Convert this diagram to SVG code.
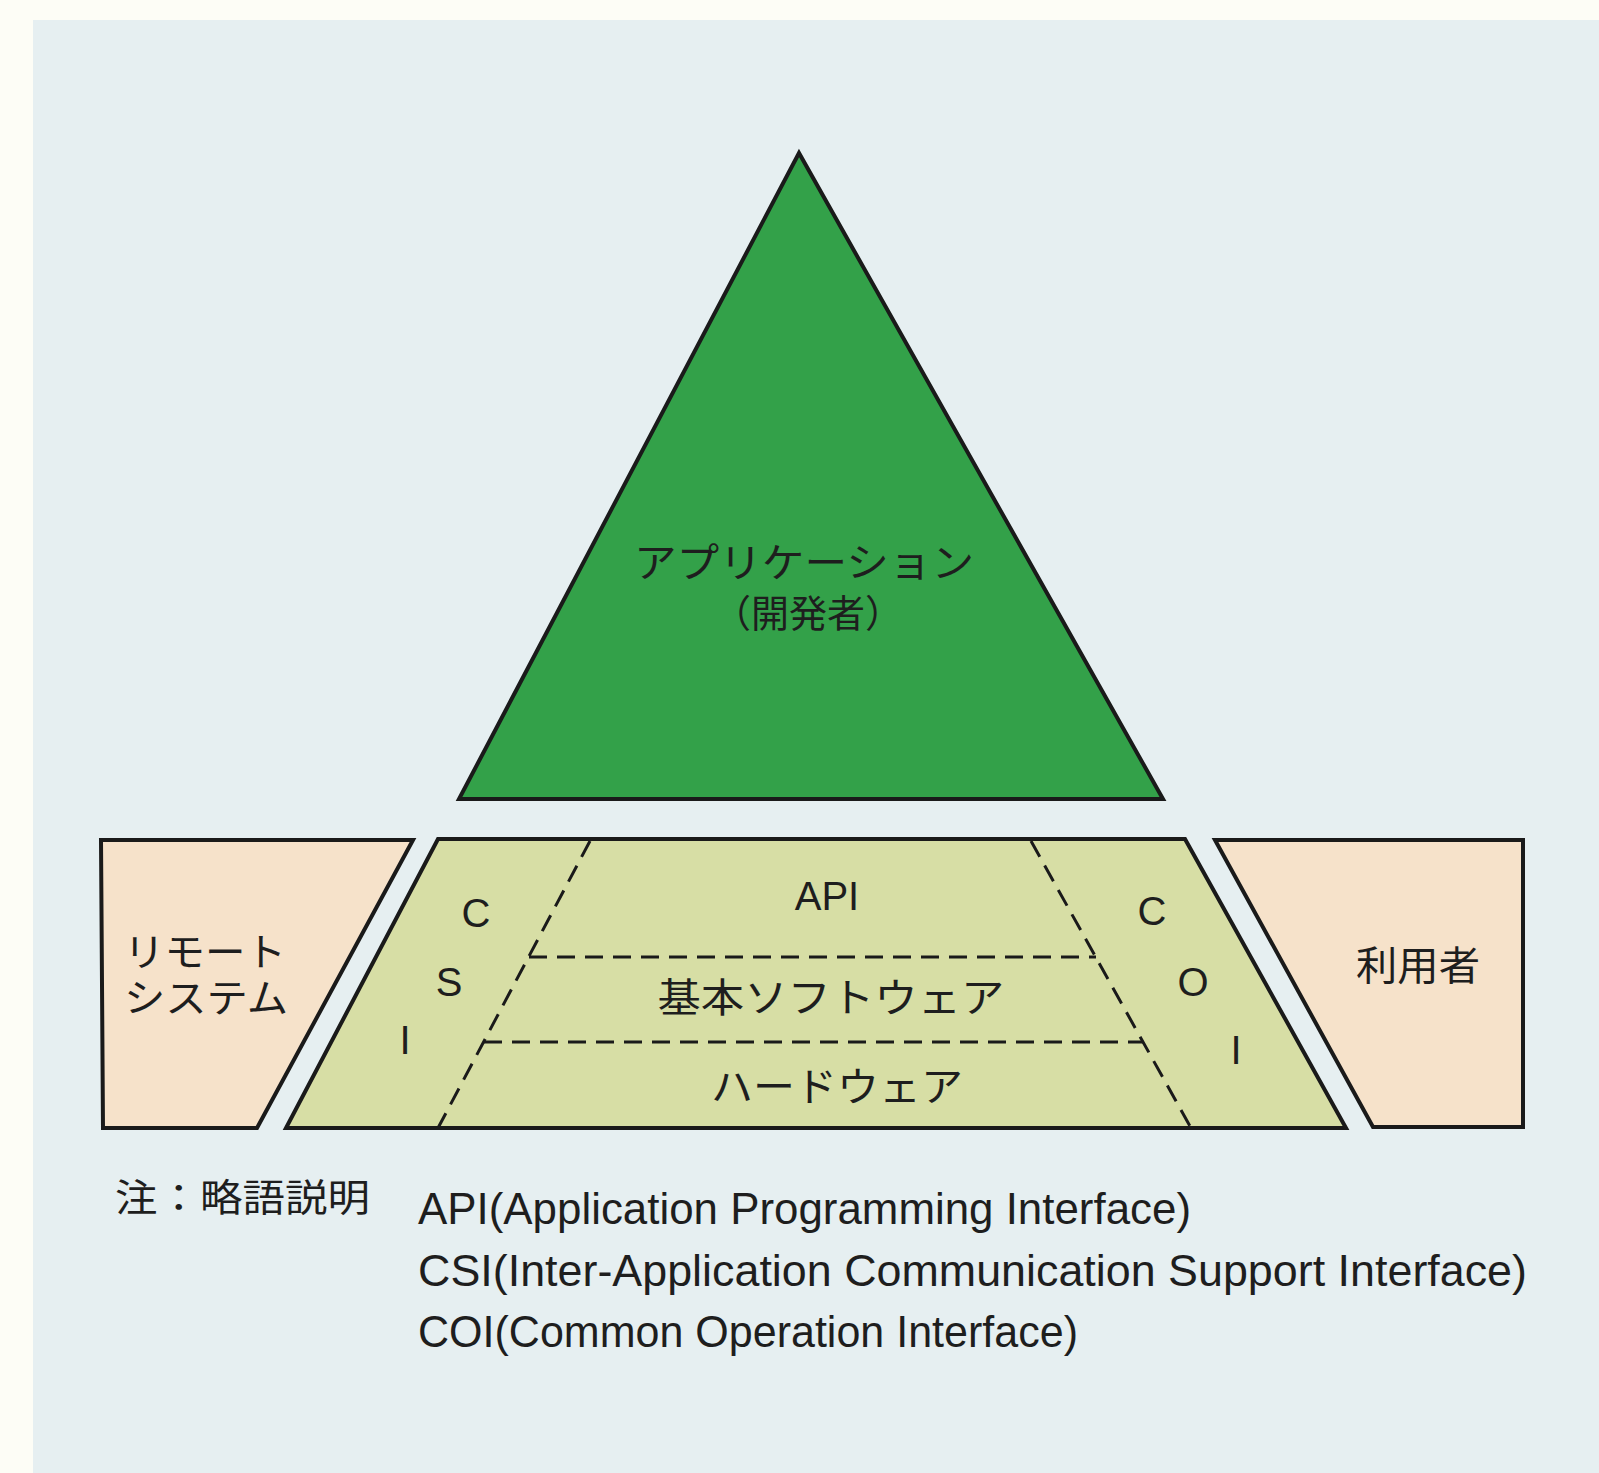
<svg xmlns="http://www.w3.org/2000/svg" width="1599" height="1473" viewBox="0 0 1599 1473">
<style>
.jp{font-family:"Liberation Sans","Noto Sans CJK JP",sans-serif;fill:#1e1e1e;}
.lt{font-family:"Liberation Sans","Noto Sans",sans-serif;fill:#1e1e1e;}
.edge{stroke:#1a1a1a;stroke-width:4;stroke-linejoin:miter;}
.dash{stroke:#1a1a1a;stroke-width:3;stroke-dasharray:18 10;fill:none;}
</style>
<rect x="0" y="0" width="1599" height="1473" fill="#fdfdf6"/>
<rect x="33" y="20" width="1566" height="1453" fill="#e6eff1"/>
<g id="application">
<polygon class="edge" points="799,153 459,799 1163,799" fill="#33a149"/>
<text class="jp" x="804" y="577" font-size="40" text-anchor="middle" textLength="340" lengthAdjust="spacingAndGlyphs">アプリケーション</text>
<text class="jp" x="808" y="627" font-size="38" text-anchor="middle">（開発者）</text>
</g>
<g id="platform">
<polygon class="edge" points="438,839 1185,839 1346,1128 286,1128" fill="#d7dea5"/>
<text class="lt" x="827" y="910" font-size="40" text-anchor="middle">API</text>
<text class="jp" x="831" y="1012" font-size="40" text-anchor="middle" textLength="347" lengthAdjust="spacingAndGlyphs">基本ソフトウェア</text>
<text class="jp" x="837" y="1101" font-size="40" text-anchor="middle" textLength="252" lengthAdjust="spacingAndGlyphs">ハードウェア</text>
<text class="lt" x="476" y="927" font-size="40" text-anchor="middle">C</text>
<text class="lt" x="449" y="996" font-size="40" text-anchor="middle">S</text>
<text class="lt" x="405" y="1054" font-size="40" text-anchor="middle">I</text>
<text class="lt" x="1152" y="925" font-size="40" text-anchor="middle">C</text>
<text class="lt" x="1193" y="996" font-size="40" text-anchor="middle">O</text>
<text class="lt" x="1236" y="1064" font-size="40" text-anchor="middle">I</text>
</g>
<g id="remote-system">
<polygon class="edge" points="101,840 413,840 257,1128 103,1128" fill="#f6e2ca"/>
<text class="jp" x="124" y="966" font-size="39" textLength="162" lengthAdjust="spacingAndGlyphs">リモート</text>
<text class="jp" x="124" y="1012" font-size="39" textLength="164" lengthAdjust="spacingAndGlyphs">システム</text>
</g>
<g id="user">
<polygon class="edge" points="1215,840 1523,840 1523,1127 1373,1127" fill="#f6e2ca"/>
<text class="jp" x="1418" y="980" font-size="40" text-anchor="middle" textLength="124" lengthAdjust="spacingAndGlyphs">利用者</text>
</g>
<g id="connectors">
<line class="dash" x1="590" y1="841" x2="438" y2="1128"/>
<line class="dash" x1="1031" y1="841" x2="1191" y2="1128"/>
<line class="dash" x1="529" y1="957" x2="1096" y2="957"/>
<line class="dash" x1="484" y1="1042" x2="1143" y2="1042"/>
</g>
<g id="notes">
<text class="jp" x="115" y="1211" font-size="38" textLength="255" lengthAdjust="spacingAndGlyphs">注：略語説明</text>
<text class="lt" x="418" y="1224" font-size="44" textLength="773" lengthAdjust="spacingAndGlyphs">API(Application Programming Interface)</text>
<text class="lt" x="418" y="1286" font-size="44" textLength="1109" lengthAdjust="spacingAndGlyphs">CSI(Inter-Application Communication Support Interface)</text>
<text class="lt" x="418" y="1347" font-size="44" textLength="660" lengthAdjust="spacingAndGlyphs">COI(Common Operation Interface)</text>
</g>
</svg>
